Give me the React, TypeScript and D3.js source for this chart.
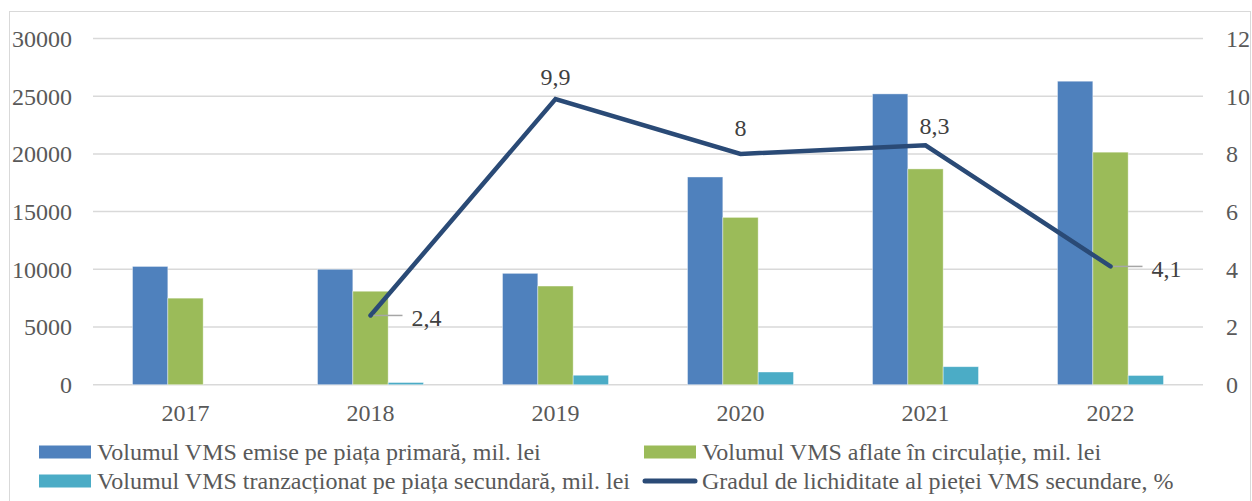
import * as d3 from "d3";
import React, { useEffect, useRef } from "react";

const years = ["2017", "2018", "2019", "2020", "2021", "2022"];
const primary = [10250, 10000, 9650, 18000, 25200, 26300];
const circulation = [7500, 8100, 8550, 14500, 18700, 20150];
const secondary = [0, 190, 820, 1100, 1560, 800];
const liquidity: (number | null)[] = [null, 2.4, 9.9, 8, 8.3, 4.1];
const leftTicks = [0, 5000, 10000, 15000, 20000, 25000, 30000];
const rightTicks = [0, 2, 4, 6, 8, 10, 12];

const barNames = [
  "Volumul VMS emise pe piața primară, mil. lei",
  "Volumul VMS aflate în circulație, mil. lei",
  "Volumul VMS tranzacționat pe piața secundară, mil. lei",
];
const lineName = "Gradul de lichiditate al pieței VMS secundare, %";

export default function App() {
  const svgRef = useRef<SVGSVGElement>(null);
  const width = 1252;
  const height = 501;
  const plot = { left: 93, right: 1203, top: 38.5, bottom: 384.7 };
  const colors = ["#4f81bd", "#9bbb59", "#4bacc6"];
  const lineColor = "#2a4a76";
  const textColor = "#595959";
  const font = "'Liberation Serif', 'Times New Roman', serif";

  useEffect(() => {
    const svg = d3.select(svgRef.current);
    svg.selectAll("*").remove();

    // outer frame
    svg
      .append("rect")
      .attr("x", 9.5)
      .attr("y", 11.5)
      .attr("width", 1241)
      .attr("height", 500)
      .attr("fill", "white")
      .attr("stroke", "#d9d9d9");

    const x = d3
      .scaleBand()
      .domain(years)
      .range([plot.left, plot.right])
      .paddingInner(0.427)
      .paddingOuter(0.2135);
    const xSub = d3
      .scaleBand()
      .domain(["0", "1", "2"])
      .range([0, x.bandwidth()]);
    const yLeft = d3.scaleLinear().domain([0, 30000]).range([plot.bottom, plot.top]);
    const yRight = d3.scaleLinear().domain([0, 12]).range([plot.bottom, plot.top]);

    // grid
    svg
      .append("g")
      .selectAll("line")
      .data(leftTicks)
      .join("line")
      .attr("x1", plot.left)
      .attr("x2", plot.right)
      .attr("y1", (d) => yLeft(d))
      .attr("y2", (d) => yLeft(d))
      .attr("stroke", "#d9d9d9")
      .attr("stroke-width", 1.5);

    // left ticks
    svg
      .append("g")
      .selectAll("text")
      .data(leftTicks)
      .join("text")
      .attr("x", 72)
      .attr("y", (d) => yLeft(d))
      .attr("dy", "0.35em")
      .attr("text-anchor", "end")
      .attr("font-family", font)
      .attr("font-size", 24)
      .attr("fill", textColor)
      .text((d) => d);

    // right ticks
    svg
      .append("g")
      .selectAll("text")
      .data(rightTicks)
      .join("text")
      .attr("x", 1226)
      .attr("y", (d) => yRight(d))
      .attr("dy", "0.35em")
      .attr("text-anchor", "start")
      .attr("font-family", font)
      .attr("font-size", 24)
      .attr("fill", textColor)
      .text((d) => d);

    // x labels
    svg
      .append("g")
      .selectAll("text")
      .data(years)
      .join("text")
      .attr("x", (d) => (x(d) as number) + x.bandwidth() / 2)
      .attr("y", 413)
      .attr("dy", "0.35em")
      .attr("text-anchor", "middle")
      .attr("font-family", font)
      .attr("font-size", 24)
      .attr("fill", textColor)
      .text((d) => d);

    // bars
    const series = [primary, circulation, secondary];
    series.forEach((values, si) => {
      svg
        .append("g")
        .selectAll("rect")
        .data(values.map((v, i) => ({ year: years[i], v })).filter((d) => d.v > 0))
        .join("rect")
        .attr("x", (d) => (x(d.year) as number) + (xSub(String(si)) as number))
        .attr("y", (d) => yLeft(d.v))
        .attr("width", xSub.bandwidth())
        .attr("height", (d) => plot.bottom - yLeft(d.v))
        .attr("fill", colors[si])
        .attr("stroke", "white")
        .attr("stroke-opacity", 0.5)
        .attr("stroke-width", 0.8);
    });

    // line
    const pts = years
      .map((yr, i) => ({ year: yr, v: liquidity[i] }))
      .filter((d) => d.v !== null) as { year: string; v: number }[];
    const cx = (d: { year: string }) => (x(d.year) as number) + x.bandwidth() / 2;

    const line = d3
      .line<{ year: string; v: number }>()
      .x(cx)
      .y((d) => yRight(d.v));

    svg
      .append("path")
      .attr("d", line(pts))
      .attr("fill", "none")
      .attr("stroke", lineColor)
      .attr("stroke-width", 4.5)
      .attr("stroke-linejoin", "miter")
      .attr("stroke-linecap", "round");

    // data labels: "right" labels get a leader line
    const place = ["right", "above", "above", "above", "right"];
    const shift = [0, 0, 0, 9, 0];
    const lift = [0, 22, 26, 20, 0];
    pts.forEach((d, i) => {
      const px = cx(d);
      const py = yRight(d.v);
      const txt = String(d.v).replace(".", ",");
      if (place[i] === "right") {
        svg
          .append("line")
          .attr("x1", px + 3)
          .attr("x2", px + 32)
          .attr("y1", py)
          .attr("y2", py)
          .attr("stroke", "#a6a6a6")
          .attr("stroke-width", 1.5);
        svg
          .append("text")
          .attr("x", px + 41)
          .attr("y", py + 2)
          .attr("dy", "0.35em")
          .attr("font-family", font)
          .attr("font-size", 24)
          .attr("fill", "#404040")
          .text(txt);
      } else {
        svg
          .append("text")
          .attr("x", px + shift[i])
          .attr("y", py - lift[i])
          .attr("dy", "0.35em")
          .attr("text-anchor", "middle")
          .attr("font-family", font)
          .attr("font-size", 24)
          .attr("fill", "#404040")
          .text(txt);
      }
    });

    // legend
    const legend = [
      { name: barNames[0], kind: "bar", color: colors[0], x: 39, y: 452 },
      { name: barNames[1], kind: "bar", color: colors[1], x: 644, y: 452 },
      { name: barNames[2], kind: "bar", color: colors[2], x: 39, y: 481 },
      { name: lineName, kind: "line", color: lineColor, x: 644, y: 481 },
    ];
    legend.forEach((l) => {
      if (l.kind === "bar") {
        svg
          .append("rect")
          .attr("x", l.x)
          .attr("y", l.y - 6.5)
          .attr("width", 52)
          .attr("height", 13)
          .attr("fill", l.color);
      } else {
        svg
          .append("line")
          .attr("x1", l.x + 1)
          .attr("x2", l.x + 51)
          .attr("y1", l.y)
          .attr("y2", l.y)
          .attr("stroke", l.color)
          .attr("stroke-width", 5)
          .attr("stroke-linecap", "round");
      }
      svg
        .append("text")
        .attr("x", l.x + 58)
        .attr("y", l.y)
        .attr("dy", "0.35em")
        .attr("font-family", font)
        .attr("font-size", 24)
        .attr("fill", textColor)
        .text(l.name);
    });
  }, []);

  return (
    <svg
      ref={svgRef}
      width={width}
      height={height}
      style={{ position: "absolute", left: 0, top: 0, display: "block" }}
    ></svg>
  );
}
